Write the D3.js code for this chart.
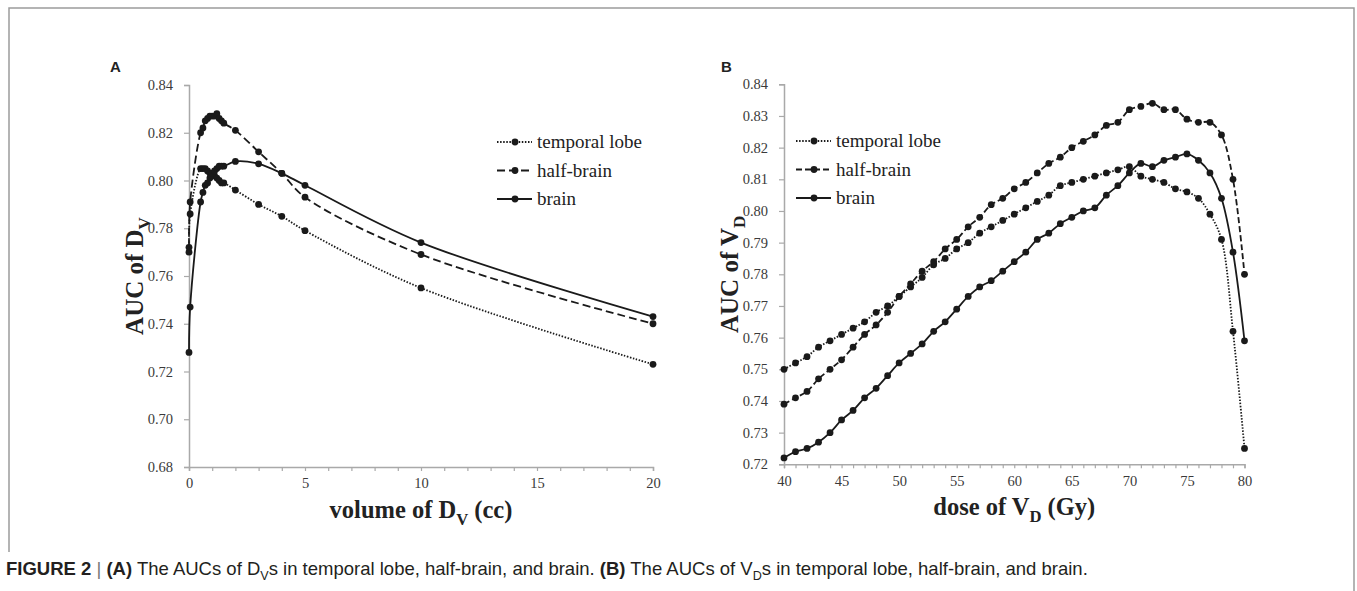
<!DOCTYPE html>
<html>
<head>
<meta charset="utf-8">
<script src="https://cdn.jsdelivr.net/npm/d3@7"></script>
<style>
  body { margin: 0; background: #fff; }
</style>
</head>
<body>
<svg width="1357" height="591"></svg>
<script>
// Panel A: AUC of D_V against volume (cc)
var volumes = [0, 0.05, 0.5, 0.6, 0.7, 0.8, 0.9, 1.0, 1.1, 1.2, 1.3, 1.4, 1.5, 2, 3, 4, 5, 10, 20];
var dvTemporal = [0.770, 0.786, 0.805, 0.805, 0.805, 0.804, 0.803, 0.803, 0.802, 0.801, 0.800, 0.799, 0.799, 0.796, 0.790, 0.785, 0.779, 0.755, 0.723];
var dvHalf = [0.772, 0.791, 0.820, 0.822, 0.825, 0.826, 0.827, 0.827, 0.827, 0.828, 0.826, 0.825, 0.824, 0.821, 0.812, 0.803, 0.793, 0.769, 0.740];
var dvBrain = [0.728, 0.747, 0.791, 0.795, 0.798, 0.799, 0.801, 0.803, 0.804, 0.805, 0.806, 0.806, 0.806, 0.808, 0.807, 0.803, 0.798, 0.774, 0.743];
var dvYTicks = [0.68, 0.70, 0.72, 0.74, 0.76, 0.78, 0.80, 0.82, 0.84];
var dvXTicks = [0, 5, 10, 15, 20];

// Panel B: AUC of V_D against dose (Gy)
var doses = [40, 41, 42, 43, 44, 45, 46, 47, 48, 49, 50, 51, 52, 53, 54, 55, 56, 57, 58, 59, 60,
  61, 62, 63, 64, 65, 66, 67, 68, 69, 70, 71, 72, 73, 74, 75, 76, 77, 78, 79, 80];
var vdTemporal = [0.750, 0.752, 0.754, 0.757, 0.759, 0.761, 0.763, 0.765, 0.768, 0.770,
  0.773, 0.776, 0.779, 0.783, 0.785, 0.788, 0.790, 0.793, 0.795, 0.797,
  0.799, 0.801, 0.803, 0.805, 0.808, 0.809, 0.810, 0.811, 0.812, 0.813,
  0.814, 0.811, 0.810, 0.809, 0.807, 0.806, 0.804, 0.799, 0.791, 0.762, 0.725];
var vdHalf = [0.739, 0.741, 0.743, 0.747, 0.750, 0.753, 0.757, 0.761, 0.764, 0.768,
  0.773, 0.777, 0.781, 0.784, 0.788, 0.791, 0.795, 0.798, 0.802, 0.804,
  0.807, 0.809, 0.812, 0.815, 0.817, 0.820, 0.822, 0.824, 0.827, 0.828,
  0.832, 0.833, 0.834, 0.832, 0.832, 0.829, 0.828, 0.828, 0.824, 0.810, 0.780];
var vdBrain = [0.722, 0.724, 0.725, 0.727, 0.730, 0.734, 0.737, 0.741, 0.744, 0.748,
  0.752, 0.755, 0.758, 0.762, 0.765, 0.769, 0.773, 0.776, 0.778, 0.781,
  0.784, 0.787, 0.791, 0.793, 0.796, 0.798, 0.800, 0.801, 0.805, 0.808,
  0.812, 0.815, 0.814, 0.816, 0.817, 0.818, 0.816, 0.812, 0.804, 0.787, 0.759];
var vdYTicks = [0.72, 0.73, 0.74, 0.75, 0.76, 0.77, 0.78, 0.79, 0.80, 0.81, 0.82, 0.83, 0.84];
var vdXTicks = [40, 45, 50, 55, 60, 65, 70, 75, 80];

var seriesNames = ["temporal lobe", "half-brain", "brain"];

var serif = "Liberation Serif, DejaVu Serif, serif";
var sans = "Liberation Sans, Arial, sans-serif";
var axisColor = "#a9a9a9";
var ink = "#1a1a1a";

var svg = d3.select("svg");

// frame round the figure
svg.append("path")
  .attr("d", "M9,552V8H1354V591")
  .attr("fill", "none")
  .attr("stroke", "#9c9c9c")
  .attr("stroke-width", 1.5);

function richText(sel, parts, size) {
  parts.forEach(function (p) {
    var t = sel.append("tspan").text(p[0]);
    if (p[1] == "sub") {
      t.attr("font-size", size * 0.68).attr("dy", size * 0.28);
    } else if (p[1] == "up") {
      t.attr("dy", -size * 0.28);
    }
  });
}

function drawPanel(p) {
  var x = d3.scaleLinear().domain(p.xDomain).range(p.xRange);
  var y = d3.scaleLinear().domain(p.yDomain).range(p.yRange);
  var g = svg.append("g");

  // x axis: small ticks every unit, labels every 5
  var xMinor = d3.range(p.xDomain[0], p.xDomain[1] + 1);
  var xa = g.append("g")
    .attr("transform", "translate(0," + p.yRange[0] + ")")
    .call(d3.axisBottom(x).tickValues(xMinor).tickSize(4).tickPadding(7)
      .tickFormat(function (d) { return p.xTicks.indexOf(d) >= 0 ? d : ""; }));

  var ya = g.append("g")
    .attr("transform", "translate(" + p.xRange[0] + ",0)")
    .call(d3.axisLeft(y).tickValues(p.yTicks).tickSize(5).tickPadding(11)
      .tickFormat(d3.format(".2f")));

  [xa, ya].forEach(function (a) {
    a.attr("font-family", serif).attr("font-size", 14.5);
    a.select(".domain").attr("stroke", axisColor).attr("stroke-width", 1.5);
    a.selectAll(".tick line").attr("stroke", axisColor).attr("stroke-width", 1.2);
    a.selectAll(".tick text").attr("fill", "#3a3a3a");
  });

  var line = d3.line()
    .x(function (d) { return x(d[0]); })
    .y(function (d) { return y(d[1]); })
    .curve(d3.curveCatmullRom.alpha(0.5));

  p.series.forEach(function (s, i) {
    var pts = p.xs.map(function (v, j) { return [v, s[j]]; });
    g.append("path")
      .datum(pts)
      .attr("d", line)
      .attr("fill", "none")
      .attr("stroke", ink)
      .attr("stroke-width", 1.8)
      .attr("stroke-dasharray", p.dashes[i]);
    g.append("g")
      .selectAll("circle")
      .data(pts)
      .enter()
      .append("circle")
      .attr("cx", function (d) { return x(d[0]); })
      .attr("cy", function (d) { return y(d[1]); })
      .attr("r", 3.4)
      .attr("fill", ink);
  });

  // legend
  var lg = g.append("g").attr("transform", "translate(" + p.legend[0] + "," + p.legend[1] + ")");
  seriesNames.forEach(function (name, i) {
    var row = lg.append("g").attr("transform", "translate(0," + i * 28.5 + ")");
    row.append("line")
      .attr("x1", 0).attr("x2", 35)
      .attr("stroke", ink)
      .attr("stroke-width", 1.8)
      .attr("stroke-dasharray", p.dashes[i]);
    row.append("circle").attr("cx", 18).attr("r", 3.4).attr("fill", ink);
    row.append("text")
      .attr("x", 40)
      .attr("dy", "0.33em")
      .attr("fill", "#222")
      .attr("font-family", serif)
      .attr("font-size", 19)
      .text(name);
  });

  // panel letter
  g.append("text")
    .attr("x", p.letterPos[0])
    .attr("y", p.letterPos[1])
    .attr("fill", "#222")
    .attr("font-family", sans)
    .attr("font-weight", "bold")
    .attr("font-size", 15)
    .text(p.letter);

  // axis titles
  var xt = g.append("text")
    .attr("x", (p.xRange[0] + p.xRange[1]) / 2)
    .attr("y", p.yRange[0] + 51)
    .attr("text-anchor", "middle")
    .attr("fill", "#222")
    .attr("font-family", serif)
    .attr("font-weight", "bold")
    .attr("font-size", 24.5);
  richText(xt, p.xTitle, 24.5);

  var yt = g.append("text")
    .attr("text-anchor", "middle")
    .attr("transform", "translate(" + (p.xRange[0] - 46) + "," + (p.yRange[0] + p.yRange[1]) / 2 + ")rotate(-90)")
    .attr("fill", "#222")
    .attr("font-family", serif)
    .attr("font-weight", "bold")
    .attr("font-size", 25);
  richText(yt, p.yTitle, 25);
}

drawPanel({
  xs: volumes,
  series: [dvTemporal, dvHalf, dvBrain],
  xDomain: [0, 20], xRange: [189, 653],
  yDomain: [0.68, 0.84], yRange: [467, 85],
  xTicks: dvXTicks, yTicks: dvYTicks,
  dashes: ["1.5,1.6", "8,4", null],
  legend: [497, 142],
  letter: "A", letterPos: [110, 72],
  xTitle: [["volume of D"], ["V", "sub"], [" (cc)", "up"]],
  yTitle: [["AUC of D"], ["V", "sub"]]
});

drawPanel({
  xs: doses,
  series: [vdTemporal, vdHalf, vdBrain],
  xDomain: [40, 80], xRange: [784, 1244.5],
  yDomain: [0.72, 0.84], yRange: [464.3, 84.3],
  xTicks: vdXTicks, yTicks: vdYTicks,
  dashes: ["1.5,1.6", "6,3", null],
  legend: [796, 141],
  letter: "B", letterPos: [721, 72],
  xTitle: [["dose of V"], ["D", "sub"], [" (Gy)", "up"]],
  yTitle: [["AUC of V"], ["D", "sub"]]
});

// caption
var capSize = 18.5;
var cap = svg.append("text")
  .attr("x", 6)
  .attr("y", 575)
  .attr("fill", "#231f20")
  .attr("font-family", sans)
  .attr("font-size", capSize);
cap.append("tspan").attr("font-weight", "bold").text("FIGURE 2");
cap.append("tspan").attr("fill", "#777").text(" | ");
cap.append("tspan").attr("font-weight", "bold").text("(A)");
richText(cap, [[" The AUCs of D"], ["V", "sub"], ["s in temporal lobe, half-brain, and brain. ", "up"]], capSize);
cap.append("tspan").attr("font-weight", "bold").text("(B)");
richText(cap, [[" The AUCs of V"], ["D", "sub"], ["s in temporal lobe, half-brain, and brain.", "up"]], capSize);
</script>
</body>
</html>
